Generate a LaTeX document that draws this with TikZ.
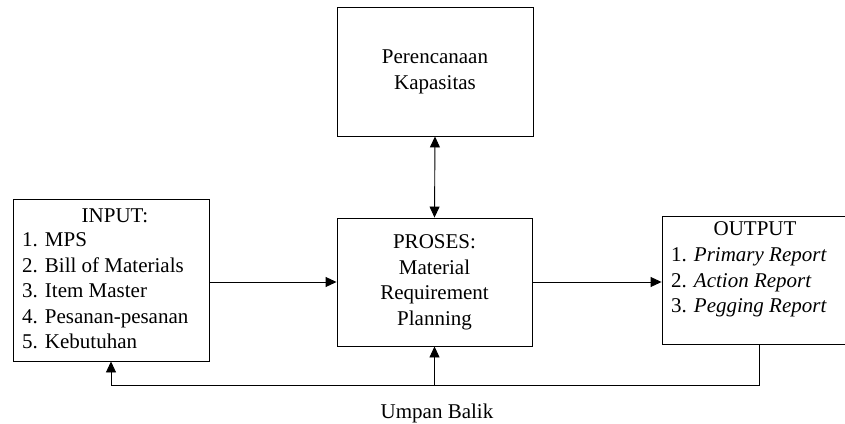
\documentclass[tikz,border=0pt]{standalone}
\usepackage{fontspec}
\setmainfont{Liberation Serif}
\usetikzlibrary{arrows.meta,positioning,calc}

\begin{document}
\begin{tikzpicture}[x=1pt,y=1pt,>={Triangle[length=11pt,width=10pt]},
		blok/.style={draw,line width=0.9pt,inner sep=0pt},
		teks/.style={inner sep=0pt,font=\fontsize{21}{25.5}\selectfont},
		garis/.style={line width=0.9pt},
		]
		\useasboundingbox (0,0) rectangle (845,423);
		
		% kotak atas dan proses
		\node[blok,teks,minimum width=196pt,minimum height=129pt] (kap) at (435,351.5)
		{\begin{tabular}{@{}c@{}}Perencanaan\\Kapasitas\end{tabular}};
		\node[blok,teks,minimum width=195pt,minimum height=128pt] (proses) at (434.5,141)
		{\begin{tabular}{@{}c@{}}PROSES:\\Material\\Requirement\\Planning\end{tabular}};
		
		% input
		\node[blok,minimum width=196pt,minimum height=162pt] (inp) at (111,143) {};
		\node[teks,anchor=base] (inpJudul) at (115,200) {INPUT:};
		\node[teks,anchor=base west] (inpDaftar) at (22,176)
		{\begin{tabular}[t]{@{}l@{}}1. MPS\\2. Bill of Materials\\3. Item Master\\4. Pesanan-pesanan\\5. Kebutuhan\end{tabular}};
		
		% output
		\node[blok,minimum width=186pt,minimum height=128pt] (out) at (755,143) {};
		\node[teks,anchor=base] (outJudul) at (755,187) {OUTPUT};
		\node[teks,anchor=base west] (outDaftar) at (671,161)
		{\begin{tabular}[t]{@{}l@{}}1. \textit{Primary Report}\\2. \textit{Action Report}\\3. \textit{Pegging Report}\end{tabular}};
		
		% panah utama
		\draw[garis,->] (inp.east |- proses.west) -- (proses.west);
		\draw[garis,->] (proses.east) -- (proses.east -| out.west);
		\draw[garis,<->] (kap.south) -- (proses.north);
		
		% umpan balik
		\coordinate (fb) at (759,38);
		\draw[garis,->] (out.south -| fb) |- (proses.south |- fb) -- (proses.south);
		\draw[garis,->] (proses.south |- fb) -| (inp.south);
		\node[teks,anchor=base] (umpan) at (437,5) {Umpan Balik};
	\end{tikzpicture}
\end{document}
